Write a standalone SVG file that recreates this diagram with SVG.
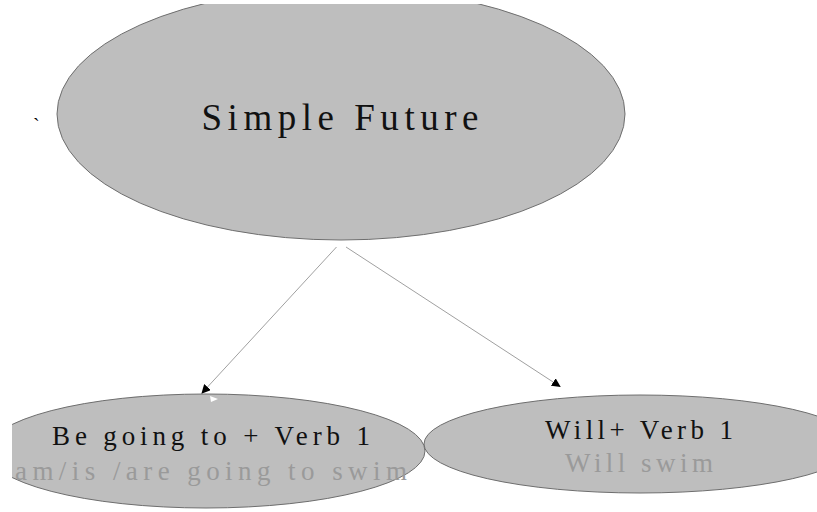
<svg xmlns="http://www.w3.org/2000/svg" width="817" height="512" viewBox="0 0 817 512">
  <style>
    .node { fill: #bebebe; stroke: #6e6e6e; stroke-width: 1; }
    .t { font-family: "Liberation Serif", "DejaVu Serif", serif; text-anchor: middle; }
    .dark { fill: #111; }
    .light { fill: #9a9a9a; }
    .conn { stroke: #a0a0a0; stroke-width: 1; fill: none; marker-end: url(#arr); }
  </style>
  <defs>
    <marker id="arr" viewBox="0 0 10 10" refX="9" refY="5" markerWidth="9" markerHeight="9" markerUnits="userSpaceOnUse" orient="auto">
      <path d="M0,0 L10,5 L0,10 z" fill="#000"/>
    </marker>
    <clipPath id="clipTop"><rect x="0" y="4" width="817" height="508"/></clipPath>
    <clipPath id="clipLeft"><rect x="12" y="0" width="805" height="512"/></clipPath>
  </defs>
  <rect width="817" height="512" fill="#fff"/>

  <g id="node-simple-future">
    <ellipse class="node" cx="341" cy="114" rx="284" ry="126" clip-path="url(#clipTop)"/>
    <text class="t dark" x="340" y="130" font-size="37" textLength="277" lengthAdjust="spacing">Simple Future</text>
  </g>

  <g id="node-tick">
    <text x="33" y="133" font-family="Liberation Serif, serif" font-size="20" fill="#000">`</text>
  </g>

  <g id="node-going-to" clip-path="url(#clipLeft)">
    <ellipse class="node" cx="206" cy="451" rx="219" ry="57"/>
    <polygon points="210,396 218,399 211,402" fill="#fff"/>
    <text class="t dark" x="211" y="445" font-size="27" textLength="318" lengthAdjust="spacing">Be going to + Verb 1</text>
    <text class="t light" x="211" y="480" font-size="27" textLength="392" lengthAdjust="spacing">am/is /are going to swim</text>
  </g>

  <g id="node-will">
    <ellipse class="node" cx="640" cy="444" rx="216" ry="49"/>
    <text class="t dark" x="639" y="439" font-size="27" textLength="188" lengthAdjust="spacing">Will+ Verb 1</text>
    <text class="t light" x="639" y="472" font-size="27" textLength="148" lengthAdjust="spacing">Will swim</text>
  </g>

  <g id="connectors">
    <line class="conn" x1="336.5" y1="247" x2="202" y2="393"/>
    <line class="conn" x1="346" y1="247" x2="560" y2="386.5"/>
  </g>
</svg>
